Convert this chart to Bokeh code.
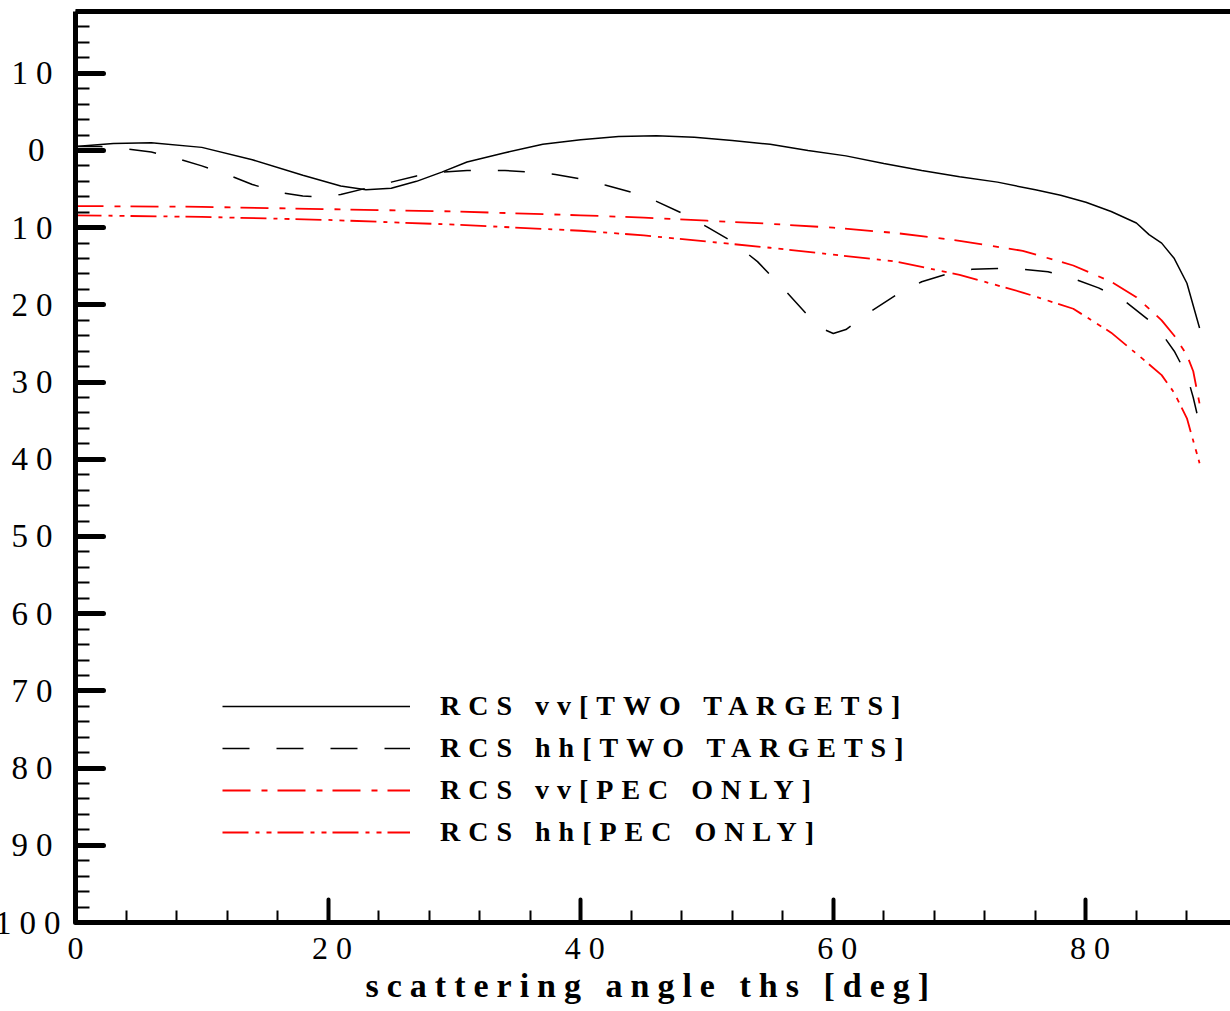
from bokeh.plotting import figure
from bokeh.models import (LinearAxis, SingleIntervalTicker, FixedTicker, Legend,
                          LegendItem, Range1d, Title)
from bokeh.embed import file_html
from bokeh.resources import INLINE

# ---- data ----
vv_two_x = [0, 3, 6, 10, 14, 18, 21, 23, 25, 27, 29, 31, 34, 37, 40, 43, 46, 49, 52, 55,
            58, 61, 64, 67, 70, 73, 76, 78, 80, 82, 84, 85, 86, 87, 88, 89]
vv_two_y = [0.5, 0.9, 1.0, 0.4, -1.2, -3.2, -4.6, -5.1, -4.9, -4.0, -2.8, -1.5, -0.3, 0.8,
            1.4, 1.8, 1.9, 1.7, 1.3, 0.8, 0.0, -0.7, -1.7, -2.6, -3.4, -4.1, -5.1, -5.8,
            -6.7, -7.9, -9.4, -10.9, -12.0, -14.0, -17.2, -23.0]

hh_two_x = [0, 2, 4, 6, 8, 10, 12, 14, 16, 18, 19, 21, 23, 25, 27, 29, 31, 34, 36, 38, 40,
            42, 44, 46, 48, 50, 52, 54, 56, 58, 59, 60, 61, 63, 65, 67, 69, 71, 73, 75, 77,
            79, 81, 83, 85, 86, 87, 88, 88.5, 89]
hh_two_y = [0.5, 0.5, 0.2, -0.2, -1.0, -2.0, -3.1, -4.4, -5.4, -5.9, -6.0, -5.7, -4.9, -4.1,
            -3.3, -2.8, -2.6, -2.6, -2.8, -3.1, -3.7, -4.5, -5.4, -6.6, -8.1, -9.9, -11.8,
            -14.4, -17.8, -21.4, -23.0, -23.7, -23.2, -20.8, -18.7, -17.0, -16.0, -15.4,
            -15.3, -15.4, -15.7, -16.6, -17.8, -19.4, -22.0, -23.7, -26.0, -29.1, -32.0, -35.5]

vv_pec_x = [0, 10, 20, 30, 40, 45, 50, 55, 60, 65, 70, 75, 79, 82, 84, 86, 87, 88, 88.5, 89]
vv_pec_y = [-7.2, -7.3, -7.6, -7.9, -8.4, -8.7, -9.1, -9.5, -10.0, -10.7, -11.7, -13.0,
            -14.9, -17.0, -19.0, -22.0, -24.0, -26.5, -28.6, -32.8]

hh_pec_x = [0, 10, 20, 30, 40, 45, 50, 55, 60, 65, 70, 75, 79, 82, 84.5, 86, 87, 88, 89]
hh_pec_y = [-8.4, -8.6, -9.0, -9.6, -10.4, -11.0, -11.8, -12.6, -13.5, -14.4, -16.1, -18.4,
            -20.5, -23.6, -27.0, -29.1, -31.4, -34.7, -40.5]

labels = ["RCS vv[TWO TARGETS]", "RCS hh[TWO TARGETS]", "RCS vv[PEC ONLY]", "RCS hh[PEC ONLY]"]

y_ticks = [10, 0, -10, -20, -30, -40, -50, -60, -70, -80, -90, -100]
y_tick_text = ["10", "0", "10", "20", "30", "40", "50", "60", "70", "80", "90", "100"]

x_title = "scattering angle ths [deg]"

FONT = "Liberation Serif"

p = figure(width=1255, height=1011, x_range=Range1d(0, 91.45), y_range=Range1d(-100, 18),
           output_backend="svg", toolbar_location=None,
           min_border_left=100, min_border_right=0, min_border_top=11, min_border_bottom=89,
           background_fill_color="white", border_fill_color="white")
p.outline_line_color = None
p.xgrid.visible = False
p.ygrid.visible = False
p.styles = {"letter-spacing": "8px", "margin-left": "-25px"}

r1 = p.line(vv_two_x, vv_two_y, line_color="black", line_width=1.5)
r2 = p.line(hh_two_x, hh_two_y, line_color="black", line_width=1.5, line_dash="27 27")
r3 = p.line(vv_pec_x, vv_pec_y, line_color="#ff0000", line_width=1.8, line_dash="28 11 6 10")
r4 = p.line(hh_pec_x, hh_pec_y, line_color="#ff0000", line_width=1.8,
            line_dash="26 7 4 7 5 6")

xa = p.xaxis[0]
xa.ticker = SingleIntervalTicker(interval=20, num_minor_ticks=5)
xa.axis_line_width = 5
xa.axis_line_color = "black"
xa.major_tick_in = 23
xa.major_tick_out = 0
xa.major_tick_line_width = 4
xa.major_tick_line_cap = "round"
xa.minor_tick_in = 12
xa.minor_tick_out = 0
xa.minor_tick_line_width = 2
xa.major_label_text_font = FONT
xa.major_label_text_font_size = "32px"
xa.major_label_text_color = "black"
xa.major_label_standoff = 15

ya = p.yaxis[0]
ya.ticker = SingleIntervalTicker(interval=10, num_minor_ticks=5)
ya.major_label_overrides = {t: s for t, s in zip(y_ticks, y_tick_text)}
ya.axis_line_width = 5
ya.axis_line_color = "black"
ya.major_tick_in = 28
ya.major_tick_out = 0
ya.major_tick_line_width = 5
ya.major_tick_line_cap = "round"
ya.minor_tick_in = 14
ya.minor_tick_out = 0
ya.minor_tick_line_width = 2
ya.major_label_text_font = FONT
ya.major_label_text_font_size = "33px"
ya.major_label_text_color = "black"
ya.major_label_standoff = 31

top = LinearAxis(ticker=FixedTicker(ticks=[]), axis_line_width=5, axis_line_color="black",
                 major_label_text_font_size="0px", major_label_standoff=0,
                 major_tick_in=0, major_tick_out=0, minor_tick_in=0, minor_tick_out=0)
p.add_layout(top, "above")

xtitle = Title(text=x_title, align="left", offset=290, vertical_align="bottom", standoff=6,
               text_font=FONT, text_font_style="bold", text_font_size="34px",
               text_color="black")
p.add_layout(xtitle, "below")

legend = Legend(items=[LegendItem(label=l, renderers=[r]) for l, r in zip(labels, [r1, r2, r3, r4])],
                location=(147, 74), border_line_color=None, background_fill_alpha=0,
                padding=0, margin=0, spacing=10, glyph_width=188, glyph_height=30,
                label_height=30, label_standoff=30, label_text_font=FONT,
                label_text_font_style="bold", label_text_font_size="28px",
                label_text_color="black")
p.add_layout(legend)

open("out.html", "w").write(file_html(p, INLINE))
